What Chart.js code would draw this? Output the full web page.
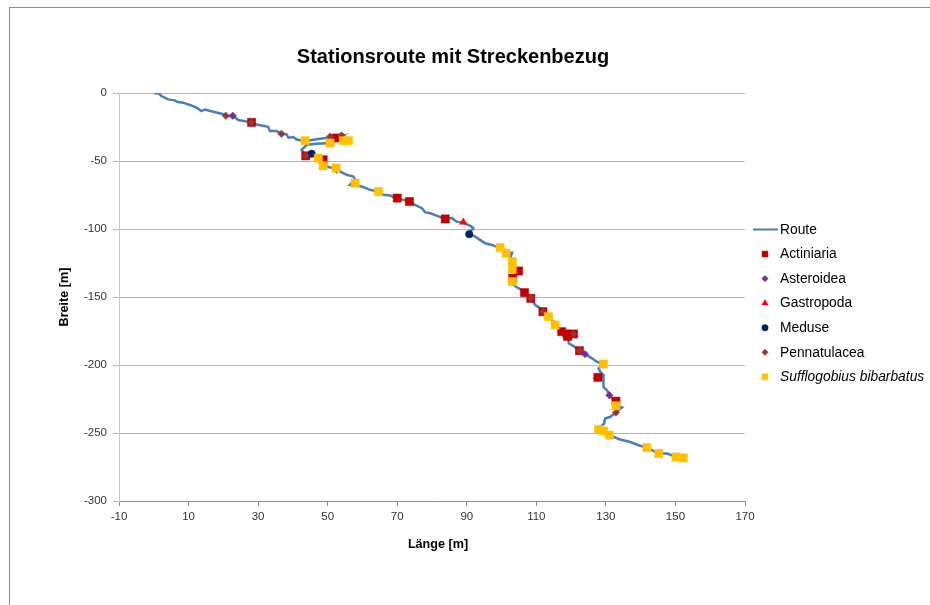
<!DOCTYPE html>
<html>
<head>
<meta charset="utf-8">
<script src="https://cdn.jsdelivr.net/npm/chart.js@4"></script>
<style>
html,body{margin:0;padding:0;background:#fff;}
#wrap{position:relative;width:930px;height:605px;overflow:hidden;}
#frame{position:absolute;left:9px;top:7px;width:940px;height:620px;border-left:1px solid #8c8c8c;border-top:1px solid #8c8c8c;}
canvas{position:absolute;left:0;top:0;}
</style>
</head>
<body>
<div id="wrap"><div id="frame"></div><canvas id="c" width="930" height="605"></canvas></div>
<script>
const chartTitle = "Stationsroute mit Streckenbezug";
const xTitle = "Länge [m]";
const yTitle = "Breite [m]";
const xTicks = [-10, 10, 30, 50, 70, 90, 110, 130, 150, 170];
const yTicks = [0, -50, -100, -150, -200, -250, -300];

const routeX = [0,1.4,2.2,4.1,6.0,6.7,8.4,10.4,12.3,13.7,14.7,17.1,19.5,20.9,22.8,24.3,27.6,29.6,32.9,33.4,35.3,36.8,38.2,38.7,40.1,41.1,42.5,43.7,47.8,50.7,52.6,54.0,51.2,46.8,44.0,42.5,43.5,44.9,47.3,48.7,48.7,50.7,52.4,53.5,55.5,57.4,57.9,56.4,59.8,62.2,64.6,66.0,67.9,69.9,71.8,73.5,75.1,77.1,78.0,79.5,80.9,83.8,85.7,87.1,89.0,91.0,91.9,91.0,91.0,92.4,93.8,95.3,97.2,99.6,101.5,103.0,102.5,103.3,103.0,104.9,103.9,103.0,103.4,104.9,106.5,108.4,109.7,111.1,112.1,113.5,115.4,116.9,118.8,120.7,119.3,119.3,120.7,122.4,124.1,126.0,127.4,129.3,127.9,128.4,129.3,127.7,129.3,129.3,130.3,131.1,132.2,132.7,134.6,132.7,131.3,129.8,129.5,128.4,127.9,130.3,132.2,134.1,137.0,139.4,141.8,145.2,147.6,150.3,152.9];
const routeY = [0,-0.3,-2.2,-4.7,-5.4,-6.4,-7.1,-8.8,-10.8,-13.3,-12.1,-13.8,-15.2,-16.9,-16.9,-19.9,-21.4,-23.1,-24.8,-28.0,-28.0,-29.8,-30.5,-32.9,-32.4,-34.2,-34.9,-35.3,-33.7,-32.7,-33.1,-32.0,-36.8,-37.3,-38.1,-41.8,-45.4,-44.2,-47.9,-49.9,-52.8,-54.8,-55.2,-57.7,-60.2,-61.4,-63.8,-67.5,-68.8,-71.2,-72.5,-74.9,-75.4,-77.3,-78.6,-79.8,-82.3,-84.7,-87.6,-88.4,-89.8,-92.6,-92.0,-94.6,-95.3,-97.7,-99.4,-101.9,-103.8,-105.6,-108.0,-110.5,-111.7,-114.1,-117.8,-117.4,-121.5,-124.4,-128.9,-130.9,-133.8,-137.5,-141.2,-143.6,-146.1,-151.0,-155.9,-158.3,-161.6,-164.0,-169.9,-174.3,-176.7,-177.5,-181.7,-184.1,-186.1,-189.0,-192.0,-195.1,-197.6,-199.6,-202.5,-205.0,-207.4,-209.1,-209.1,-216.1,-218.5,-222.2,-225.8,-229.5,-231.2,-235.2,-238.1,-239.3,-243.0,-245.5,-249.2,-251.6,-252.9,-254.8,-256.6,-259.0,-260.7,-265.1,-265.1,-267.6,-268.3];

const actiniariaX = [28.1,52.4,43.7,48.7,70.0,73.5,83.8,104.9,103.2,106.6,108.4,111.9,117.3,118.8,120.7,119.0,122.4,127.7,132.9];
const actiniariaY = [-21.6,-33.1,-46.2,-49.1,-77.3,-79.8,-92.6,-130.9,-136.2,-146.8,-151.0,-160.8,-175.5,-177.2,-177.2,-179.0,-189.5,-209.1,-226.6];
const asteroideaX = [22.7,124.0,131.0];
const asteroideaY = [-16.7,-192.0,-222.2];
const gastropodaX = [89.0];
const gastropodaY = [-95.0];
const meduseX = [45.4,90.7];
const meduseY = [-44.7,-103.8];
const pennatulaceaX = [20.7,28.1,36.7,50.7,54.0,43.7,52.6,108.4,111.9,120.7,122.4,132.9];
const pennatulaceaY = [-16.7,-21.6,-30.0,-32.0,-31.2,-46.2,-56.5,-151.0,-160.8,-177.2,-189.5,-234.9];
const sufflogobiusX = [43.5,50.7,54.5,56.0,47.3,48.7,52.4,57.9,64.6,99.6,101.3,103.1,103.1,103.1,113.5,115.4,129.3,132.9,127.9,129.3,131.0,141.8,145.2,150.2,152.2];
const sufflogobiusY = [-35.1,-36.8,-35.1,-35.1,-47.9,-53.5,-55.2,-66.3,-72.5,-113.7,-117.8,-124.0,-129.6,-138.7,-164.5,-170.6,-199.3,-230.0,-247.4,-248.5,-251.6,-260.7,-265.1,-267.6,-268.3];

const seriesNames = ["Route","Actiniaria","Asteroidea","Gastropoda","Meduse","Pennatulacea","Sufflogobius bibarbatus"];

function pts(xs, ys){ return xs.map((x,i)=>({x:x, y:ys[i]})); }

const FONT = "'Liberation Sans', Arial, sans-serif";
const styles = [
  {color:'#4A7DBA', style:'line'},
  {color:'#C00000', style:'rect', r:5.8, lr:4.2},
  {color:'#7030A0', style:'rectRot', r:3.7, lr:3.2},
  {color:'#FF0000', style:'triangle', r:4.3, lr:3.6},
  {color:'#002060', style:'circle', r:3.7, lr:3.2},
  {color:'#953735', style:'rectRot', r:3.7, lr:3.2},
  {color:'#FFC000', style:'rect', r:5.8, lr:4.2}
];
const markerData = [
  pts(actiniariaX, actiniariaY), pts(asteroideaX, asteroideaY), pts(gastropodaX, gastropodaY),
  pts(meduseX, meduseY), pts(pennatulaceaX, pennatulaceaY), pts(sufflogobiusX, sufflogobiusY)
];

const datasets = [{
  label: seriesNames[0], type:'line', data: pts(routeX, routeY), showLine:true,
  borderColor: styles[0].color, borderWidth: 2.5, pointRadius: 0, tension: 0, fill:false, order: 10
}];
for (let i=0;i<markerData.length;i++){
  const s = styles[i+1];
  datasets.push({
    label: seriesNames[i+1], data: markerData[i], showLine:false,
    pointStyle: s.style, pointRadius: s.r, pointHoverRadius: s.r,
    backgroundColor: s.color, borderColor: s.color, borderWidth: 0.5, order: 6 - i
  });
}

const overlay = {
  id:'overlay',
  afterDraw(chart){
    const ctx = chart.ctx;
    ctx.save();
    ctx.fillStyle = '#000';
    ctx.textAlign = 'center';
    ctx.textBaseline = 'middle';
    ctx.font = 'bold 20px ' + FONT;
    ctx.fillText(chartTitle, 453, 57);
    ctx.font = 'bold 12.6px ' + FONT;
    ctx.fillText(xTitle, 438, 545);
    ctx.save();
    ctx.translate(65, 297);
    ctx.rotate(-Math.PI/2);
    ctx.fillText(yTitle, 0, 0);
    ctx.restore();
    // legend
    const lx = 765, tx = 780, y0 = 229.5, dy = 24.55;
    ctx.textAlign = 'left';
    for (let i=0;i<seriesNames.length;i++){
      const y = y0 + i*dy;
      const s = styles[i];
      if (s.style === 'line'){
        ctx.strokeStyle = s.color; ctx.lineWidth = 2;
        ctx.beginPath(); ctx.moveTo(753, y); ctx.lineTo(778, y); ctx.stroke();
      } else {
        ctx.fillStyle = s.color; ctx.strokeStyle = s.color; ctx.lineWidth = 0.5;
        Chart.helpers.drawPoint(ctx, {pointStyle: s.style, radius: s.lr, rotation: 0, borderWidth: 0.5}, lx, y);
      }
      ctx.fillStyle = '#000';
      ctx.font = (i === 6 ? 'italic ' : '') + '13.8px ' + FONT;
      ctx.fillText(seriesNames[i], tx, y + 0.5);
    }
    ctx.restore();
  }
};

new Chart(document.getElementById('c'), {
  type: 'scatter',
  data: { datasets },
  plugins: [overlay],
  options: {
    responsive: false,
    animation: false,
    events: [],
    layout: { padding: { top: 93, right: 185, bottom: 0, left: 0 } },
    plugins: { legend: { display:false }, title: { display:false }, tooltip: { enabled:false } },
    scales: {
      x: {
        type:'linear', min: xTicks[0], max: xTicks[xTicks.length-1],
        afterBuildTicks: (sc) => { sc.ticks = xTicks.map(v => ({value: v})); },
        afterFit: (sc) => { sc.height = 104; },
        grid: { drawOnChartArea:false, drawTicks:true, tickLength:5, color:'#8c8c8c' },
        border: { display:true, color:'#8c8c8c', width:1 },
        ticks: { font:{ family: FONT, size: 11.5 }, color:'#333333', padding: 4, maxRotation:0, autoSkip:false, callback: v => String(v) }
      },
      y: {
        type:'linear', min: yTicks[yTicks.length-1], max: yTicks[0],
        afterBuildTicks: (sc) => { sc.ticks = yTicks.slice().reverse().map(v => ({value: v})); },
        afterFit: (sc) => { sc.width = 119; },
        grid: { drawOnChartArea:true, drawTicks:true, tickLength:6, color:'#b3b3b3' },
        border: { display:true, color:'#c8c8c8', width:1 },
        ticks: { font:{ family: FONT, size: 11.5 }, color:'#333333', padding: 6, autoSkip:false, callback: v => String(v) }
      }
    }
  }
});
</script>
</body>
</html>
